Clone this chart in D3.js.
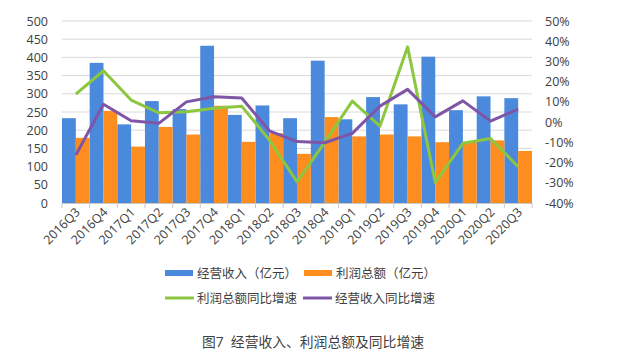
<!DOCTYPE html>
<html lang="zh">
<head>
<meta charset="UTF-8">
<script src="https://d3js.org/d3.v7.min.js"></script>
<style>
body {margin: 0; background: #fff;}
svg {display: block;}
text {font-family: "Open Sans", "Noto Sans CJK SC", sans-serif; fill: #404040;}
</style>
</head>
<body>
<svg width="636" height="362"></svg>
<script>
// quarters
var quarters = ["2016Q3","2016Q4","2017Q1","2017Q2","2017Q3","2017Q4","2018Q1","2018Q2","2018Q3","2018Q4",
                "2019Q1","2019Q2","2019Q3","2019Q4","2020Q1","2020Q2","2020Q3"];
// 经营收入（亿元）
var revenue = [233,385,216,280,258,432,242,268,233,391,230,291,271,402,255,293,288];
// 利润总额（亿元）
var profit = [179,253,155,209,188,267,168,192,135,236,183,188,183,167,168,172,143];
// 利润总额同比增速 (%)
var profitGrowth = [13.8,25.4,10.9,4.6,5.1,6.8,7.9,-8.9,-29.5,-10,10.4,-2,37.2,-29.8,-10.5,-8.1,-22.1];
// 经营收入同比增速 (%)
var revenueGrowth = [-16.3,8.8,0.7,-0.6,10,12.5,11.9,-4.3,-9.6,-10.2,-5.6,7.9,16.2,2.6,10.5,0.5,6.4];

var leftTicks = [0,50,100,150,200,250,300,350,400,450,500];
var rightTicks = [-40,-30,-20,-10,0,10,20,30,40,50];

var svg = d3.select("svg");
var plotLeft = 62, plotRight = 532, plotTop = 21, plotBottom = 203;

var x = d3.scaleBand().domain(quarters).range([plotLeft, plotRight]).padding(0);
var xi = d3.scaleBand().domain(["rev","pro"]).range([0, x.bandwidth()]).padding(0);
var yl = d3.scaleLinear().domain([0,500]).range([plotBottom, plotTop]);
var yr = d3.scaleLinear().domain([-40,50]).range([plotBottom, plotTop]);

// grid
svg.append("g").selectAll("line")
  .data(leftTicks.slice(1))
  .enter().append("line")
  .attr("x1", plotLeft).attr("x2", plotRight)
  .attr("y1", function(d){return yl(d);}).attr("y2", function(d){return yl(d);})
  .attr("stroke", "#d9d9d9").attr("stroke-width", 1);

// left axis labels
svg.append("g").selectAll("text")
  .data(leftTicks)
  .enter().append("text")
  .attr("x", 48).attr("y", function(d){return yl(d) + 4.5;})
  .attr("text-anchor", "end").style("font-size", "12.5px")
  .text(function(d){return d;});

// right axis labels
svg.append("g").selectAll("text")
  .data(rightTicks)
  .enter().append("text")
  .attr("x", 545).attr("y", function(d){return yr(d) + 4.5;})
  .attr("text-anchor", "start").style("font-size", "12.5px")
  .text(function(d){return d + "%";});

// bars
var g = svg.append("g");
g.selectAll(".rev").data(revenue).enter().append("rect")
  .attr("x", function(d,i){return x(quarters[i]) + xi("rev");})
  .attr("y", function(d){return yl(d);})
  .attr("width", xi.bandwidth())
  .attr("height", function(d){return plotBottom - yl(d);})
  .attr("fill", "#4a89dc");
g.selectAll(".pro").data(profit).enter().append("rect")
  .attr("x", function(d,i){return x(quarters[i]) + xi("pro");})
  .attr("y", function(d){return yl(d);})
  .attr("width", xi.bandwidth())
  .attr("height", function(d){return plotBottom - yl(d);})
  .attr("fill", "#fd8d1f");

// bottom axis
var xAxis = svg.append("g")
  .attr("transform", "translate(0," + plotBottom + ")")
  .call(d3.axisBottom(x).tickSize(0).tickFormat(""));
xAxis.select(".domain").attr("stroke", "#c8c8c8");
svg.append("g").selectAll("line")
  .data(quarters.concat(["end"]))
  .enter().append("line")
  .attr("x1", function(d,i){return plotLeft + i * x.bandwidth();})
  .attr("x2", function(d,i){return plotLeft + i * x.bandwidth();})
  .attr("y1", plotBottom).attr("y2", plotBottom + 5)
  .attr("stroke", "#c8c8c8");

svg.append("g").selectAll("text")
  .data(quarters)
  .enter().append("text")
  .attr("transform", function(d){return "translate(" + (x(d) + x.bandwidth()/2 + 5) + "," + (plotBottom + 10) + ") rotate(-45)";})
  .attr("text-anchor", "end")
  .style("font-size", "12.5px")
  .text(function(d){return d;});

// lines
var line = function(scale) {
  return d3.line()
    .x(function(d,i){return x(quarters[i]) + x.bandwidth()/2;})
    .y(function(d){return scale(d);});
};
svg.append("path").datum(profitGrowth)
  .attr("d", line(yr)).attr("fill", "none")
  .attr("stroke", "#8dc63f").attr("stroke-width", 3).attr("stroke-linejoin", "round");
svg.append("path").datum(revenueGrowth)
  .attr("d", line(yr)).attr("fill", "none")
  .attr("stroke", "#7f56a6").attr("stroke-width", 3).attr("stroke-linejoin", "round");

// legend
var legend = [
  {name: "经营收入（亿元）", color: "#4a89dc", type: "bar", x: 165, y: 273},
  {name: "利润总额（亿元）", color: "#fd8d1f", type: "bar", x: 304, y: 273},
  {name: "利润总额同比增速", color: "#8dc63f", type: "line", x: 165, y: 298},
  {name: "经营收入同比增速", color: "#7f56a6", type: "line", x: 303, y: 298}
];
var lg = svg.append("g").selectAll("g").data(legend).enter().append("g");
lg.filter(function(d){return d.type == "bar";}).append("rect")
  .attr("x", function(d){return d.x;}).attr("y", function(d){return d.y - 3;})
  .attr("width", 28).attr("height", 6)
  .attr("fill", function(d){return d.color;});
lg.filter(function(d){return d.type == "line";}).append("line")
  .attr("x1", function(d){return d.x;}).attr("x2", function(d){return d.x + 29;})
  .attr("y1", function(d){return d.y;}).attr("y2", function(d){return d.y;})
  .attr("stroke", function(d){return d.color;}).attr("stroke-width", 3);
lg.append("text")
  .attr("x", function(d){return d.x + 32;}).attr("y", function(d){return d.y + 4.5;})
  .style("font-size", "12.5px")
  .text(function(d){return d.name;});

svg.append("text")
  .attr("x", 313).attr("y", 347)
  .attr("text-anchor", "middle")
  .style("font-size", "13.8px")
  .attr("xml:space", "preserve")
  .text("图7  经营收入、利润总额及同比增速");
</script>
</body>
</html>
